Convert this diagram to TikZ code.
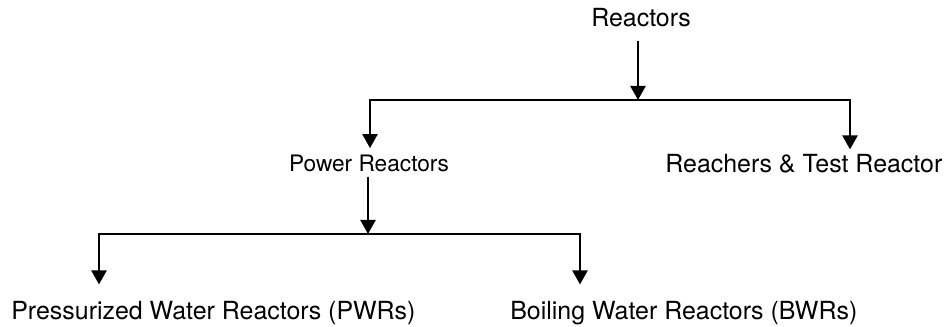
\documentclass[tikz,border=0pt]{standalone}
\usepackage{fontspec}
\setmainfont{TeX Gyre Heros}
\usepackage{tikz}
\usetikzlibrary{arrows.meta, calc}

\begin{document}
\begin{tikzpicture}[
  x=0.02cm, y=-0.02cm,
  lbl/.style={inner sep=0pt, font=\fontsize{14.2}{17}\selectfont},
  sublbl/.style={inner sep=0pt, font=\fontsize{12.9}{15}\selectfont},
  arr/.style={-{Triangle[width=8.5pt, length=8pt]}, line width=1.5pt},
  bar/.style={line width=1.1pt, line cap=rect}
  ]
  \useasboundingbox (0,0) rectangle (950,327);
  % Root
  \node[lbl, anchor=base] (rt) at (641,27) {Reactors};
  % Level 1
  \node[sublbl, anchor=base] (pw) at (369,172) {Power Reactors};
  \node[lbl, anchor=base west] (rst) at (665,173) {Reachers \& Test Reactor};
  % Level 2
  \node[lbl, anchor=base west] (pwr) at (11,320) {Pressurized Water Reactors (PWRs)};
  \node[lbl, anchor=base west] (bwr) at (510,320) {Boiling Water Reactors (BWRs)};
  % Junctions
  \coordinate (j1) at (638,100);
  \coordinate (b1l) at (370,100);
  \coordinate (b1r) at (850,100);
  \coordinate (j2) at (368,234);
  \coordinate (b2l) at (99,234);
  \coordinate (b2r) at (580,234);
  % Arrows
  \draw[arr, shorten <=2.6mm] (rt.south -| j1) -- (j1);
  \draw[bar] (b1l) -- (b1r);
  \draw[arr, shorten >=1.4mm] (b1l) -- (b1l |- pw.north);
  \draw[arr, shorten >=1mm] (b1r) -- (b1r |- rst.north);
  \draw[arr, shorten <=0.8mm] (pw.south -| j2) -- (j2);
  \draw[bar] (b2l) -- (b2r);
  \draw[arr, shorten >=3.4mm] (b2l) -- (b2l |- pwr.north);
  \draw[arr, shorten >=3.4mm] (b2r) -- (b2r |- bwr.north);
\end{tikzpicture}
\end{document}
